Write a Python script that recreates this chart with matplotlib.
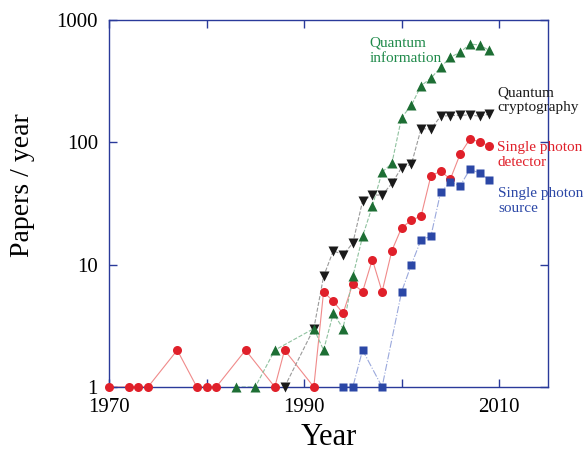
"""
Papers per year on single-photon / quantum topics
"""

import matplotlib
matplotlib.use("Agg")
import matplotlib.pyplot as plt
from matplotlib.ticker import FixedLocator, FixedFormatter, NullLocator

plt.rcParams["font.family"] = ["Liberation Serif", "DejaVu Serif"]

# Data

det_years = [1970, 1972, 1973, 1974, 1977, 1979, 1980, 1981, 1984, 1987, 1988, 1991,
             1992, 1993, 1994, 1995, 1996, 1997, 1998, 1999, 2000, 2001, 2002, 2003,
             2004, 2005, 2006, 2007, 2008, 2009]
det_papers = [1, 1, 1, 1, 2, 1, 1, 1, 2, 1, 2, 1,
              6, 5, 4, 7, 6, 11, 6, 13, 20, 23, 25, 53,
              58, 50, 80, 106, 101, 93]

src_years = [1994, 1995, 1996, 1998, 2000, 2001, 2002, 2003, 2004, 2005, 2006, 2007, 2008, 2009]
src_papers = [1, 1, 2, 1, 6, 10, 16, 17, 39, 47, 44, 60, 56, 49]

crypt_years = [1988, 1991, 1992, 1993, 1994, 1995, 1996, 1997, 1998, 1999, 2000, 2001,
               2002, 2003, 2004, 2005, 2006, 2007, 2008, 2009]
crypt_papers = [1, 3, 8, 13, 12, 15, 33, 37, 37, 46, 62, 66,
                129, 128, 163, 165, 166, 167, 163, 170]

info_years = [1983, 1985, 1987, 1991, 1992, 1993, 1994, 1995, 1996, 1997, 1998, 1999,
              2000, 2001, 2002, 2003, 2004, 2005, 2006, 2007, 2008, 2009]
info_papers = [1, 1, 2, 3, 2, 4, 3, 8, 17, 30, 57, 67,
               159, 200, 290, 333, 409, 495, 543, 634, 623, 562]

x_ticks = [1970, 1980, 1990, 2000, 2010]
x_labels = ["1970", "", "1990", "", "2010"]
y_ticks = [1, 10, 100, 1000]
y_labels = ["1", "10", "100", "1000"]

# Colours
RED = "#e0202a"
BLUE = "#2b47a6"
BLACK = "#1a1a1a"
GREEN = "#1d6e34"
SPINE = "#2a3a9a"

fig = plt.figure(figsize=(5.86, 4.51), dpi=100)
ax = fig.add_axes([0.186, 0.142, 0.749, 0.814])

# connecting lines (thin, pale)
ax.plot(det_years, det_papers, "-", color="#f08a8a", lw=0.8, zorder=1)
ax.plot(src_years, src_papers, "-.", color="#9aa8dc", lw=0.8, zorder=1)
ax.plot(crypt_years, crypt_papers, "--", color="#9a9a9a", lw=0.8, zorder=1)
ax.plot(info_years, info_papers, "--", color="#8fc29f", lw=0.8, zorder=1)

# markers (not clipped so the ones sitting on y=1 show whole)
ax.plot(det_years, det_papers, "o", color=RED, ms=6.5, mec="none", zorder=3, clip_on=False)
ax.plot(src_years, src_papers, "s", color=BLUE, ms=6, mec="none", zorder=3, clip_on=False)
ax.plot(crypt_years, crypt_papers, "v", color=BLACK, ms=6.5, mec="none", zorder=3, clip_on=False)
ax.plot(info_years, info_papers, "^", color=GREEN, ms=6.5, mec="none", zorder=3, clip_on=False)

ax.set_yscale("log")
ax.set_xlim(1970, 2015)
ax.set_ylim(1, 1000)

ax.xaxis.set_major_locator(FixedLocator(x_ticks))
ax.xaxis.set_major_formatter(FixedFormatter(x_labels))
ax.yaxis.set_major_locator(FixedLocator(y_ticks))
ax.yaxis.set_major_formatter(FixedFormatter(y_labels))
ax.yaxis.set_minor_locator(NullLocator())

ax.tick_params(which="both", direction="in", top=True, right=True,
               length=6, width=1, color=SPINE, labelsize=15, pad=8)
ax.tick_params(axis="y", pad=8)
for sp in ax.spines.values():
    sp.set_color(SPINE)
    sp.set_linewidth(1)

ax.set_xlabel("Year", fontsize=22, labelpad=4)
fig.text(0.038, 0.59, "Papers / year", fontsize=20, rotation=90,
         ha="center", va="center")

# series labels
ax.text(1996.7, 560, "Quantum\ninformation", color="#1f8a4a", fontsize=11,
        va="center", linespacing=1.2)
ax.text(2009.8, 220, "Quantum\ncryptography", color=BLACK, fontsize=11,
        va="center", linespacing=1.2)
ax.text(2009.8, 79, "Single photon\ndetector", color=RED, fontsize=11,
        va="center", linespacing=1.2)
ax.text(2009.9, 33, "Single photon\nsource", color=BLUE, fontsize=11,
        va="center", linespacing=1.2)

fig.savefig("out.png", dpi=100)
